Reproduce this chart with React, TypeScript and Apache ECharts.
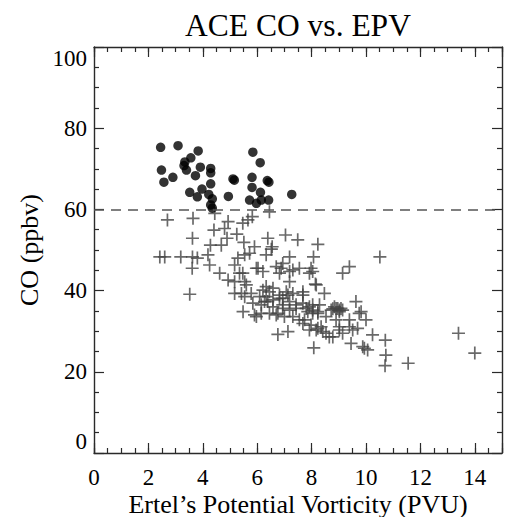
import React, { useEffect, useRef } from "react";
import * as echarts from "echarts";

// ---- DATA ----
const chartTitle = "ACE CO vs. EPV";
const xName = "Ertel\u2019s Potential Vorticity (PVU)";
const yName = "CO (ppbv)";
const thresholdCO = 60;

// CO above threshold (filled circles): [EPV, CO]
const highCO: number[][] = [
  [2.45, 75.3], [3.09, 75.7], [3.83, 74.4], [3.56, 72.7], [3.34, 71.7], [3.31, 70.8],
  [3.4, 69.7], [3.91, 70.4], [4.29, 70.1], [4.29, 69.0], [2.48, 69.7], [2.9, 67.9],
  [2.57, 66.7], [3.73, 68.3], [4.29, 66.3], [3.97, 65.0], [3.52, 64.2], [3.8, 63.1],
  [4.22, 63.7], [4.35, 62.6], [4.29, 61.1], [4.35, 60.3], [5.11, 67.5], [5.16, 67.2],
  [4.94, 63.2], [5.84, 74.1], [6.11, 71.5], [5.81, 67.9], [6.37, 67.1], [6.43, 66.7],
  [5.81, 65.4], [6.12, 64.2], [5.72, 62.3], [5.97, 61.5], [6.15, 62.3], [6.42, 62.3],
  [7.27, 63.7],
];

// CO below threshold (plus markers): [EPV, CO]
const lowCO: number[][] = [
  [2.7, 57.4], [3.64, 57.8], [4.44, 59.0], [4.93, 57.0], [5.47, 56.6], [5.66, 57.4],
  [4.41, 54.9], [4.8, 55.3], [3.62, 52.9], [4.89, 52.9], [5.25, 53.9], [4.28, 51.2],
  [4.68, 51.2], [5.51, 51.9], [2.42, 48.3], [2.6, 48.3], [3.19, 48.3], [3.62, 48.3],
  [3.8, 48.0], [4.19, 48.8], [3.61, 45.5], [4.25, 46.3], [4.62, 44.3], [5.17, 46.3],
  [5.29, 48.0], [5.54, 48.8], [5.35, 44.3], [4.93, 42.6], [5.17, 42.2], [5.54, 42.2],
  [3.52, 39.1], [5.17, 39.3], [5.42, 39.3], [5.54, 38.5], [5.48, 34.8], [5.72, 49.2],
  [5.97, 45.5], [5.9, 34.0],
  [6.45, 59.4], [5.82, 58.2], [6.39, 52.9], [7.04, 53.7], [7.49, 52.5], [8.23, 51.4],
  [5.9, 50.8], [6.55, 50.8], [6.33, 48.8], [7.19, 48.3], [8.07, 48.3], [6.94, 46.7],
  [6.03, 45.5], [6.21, 44.7], [6.7, 45.9], [7.55, 45.5], [7.98, 45.5], [6.82, 44.3],
  [7.19, 44.7], [7.92, 44.3], [9.39, 45.9], [9.14, 44.3], [5.47, 44.3], [7.19, 42.2],
  [8.17, 41.4], [8.47, 39.3], [5.6, 41.4], [5.78, 39.3], [6.33, 41.0], [6.58, 40.6],
  [7.07, 39.7], [6.82, 38.9], [7.31, 39.3], [7.68, 38.9], [9.63, 37.3], [6.09, 38.5],
  [6.39, 37.3], [6.94, 36.5], [7.92, 36.0], [8.29, 36.5], [8.9, 35.6], [9.08, 35.6],
  [6.52, 50.2], [10.51, 48.3], [6.88, 45.5], [7.31, 45.1], [9.82, 34.8], [9.02, 35.2],
  [8.72, 35.2], [8.04, 35.2], [8.23, 34.4], [7.8, 35.6], [10.0, 32.8], [10.24, 29.1],
  [10.71, 27.8], [10.73, 24.1], [10.7, 21.5], [11.55, 22.1], [13.4, 29.5], [14.0, 24.6],
  [8.08, 25.9], [6.76, 29.2], [7.13, 29.9], [8.65, 28.6], [9.02, 31.1], [9.14, 29.5],
  [9.45, 27.0], [9.88, 26.2], [10.06, 25.4], [7.68, 31.9], [7.92, 30.3], [8.35, 31.1],
  [8.53, 33.6], [8.9, 32.8], [9.39, 32.8], [9.69, 30.7], [6.15, 34.4], [6.45, 34.4],
  [6.7, 34.0], [7.0, 33.6], [7.31, 33.6], [7.55, 32.8], [6.21, 40.1], [6.45, 39.7],
  [6.82, 38.1], [7.13, 38.9], [7.19, 37.3], [7.43, 36.5], [7.68, 36.9], [8.04, 36.5],
  [6.27, 37.3], [6.58, 36.0], [6.94, 35.6], [8.84, 36.0], [8.96, 35.6],
  [5.97, 33.6], [5.84, 36.9], [6.15, 36.5], [6.76, 34.4], [7.19, 35.2], [7.43, 35.6],
  [7.74, 32.8], [7.98, 31.5], [8.23, 30.7], [8.41, 29.9], [6.33, 38.5], [6.58, 37.7],
  [6.94, 38.1], [8.04, 44.7], [8.14, 41.6], [7.68, 39.7], [9.75, 34.4], [9.94, 25.8],
  [8.78, 35.5], [9.14, 35.2], [9.02, 34.8], [7.86, 34.8], [8.04, 34.4], [8.23, 34.8],
  [9.39, 31.1], [9.51, 30.3], [9.02, 30.3], [8.53, 29.5], [8.78, 28.6], [8.17, 30.3],
];

const xRange = [0, 15];
const yRange = [0, 100];

const FONT = '"Liberation Serif", "DejaVu Serif", serif';
const AXIS_COLOR = "#2a2a2a";
const PLUS =
  "path://M11.3,0 H14.7 V11.3 H26 V14.7 H14.7 V26 H11.3 V14.7 H0 V11.3 H11.3 Z";

function xAxisDef(position: "bottom" | "top", interval: number, len: number, main: boolean) {
  return {
    type: "value",
    position,
    min: xRange[0],
    max: xRange[1],
    interval,
    axisLine: { show: main, onZero: false, lineStyle: { color: AXIS_COLOR, width: 1.4 } },
    axisTick: { show: true, inside: true, length: len, lineStyle: { color: AXIS_COLOR, width: 1.2 } },
    axisLabel:
      main && position === "bottom"
        ? {
            show: true,
            margin: 15,
            lineHeight: 18,
            fontFamily: FONT,
            fontSize: 23,
            color: "#000",
            formatter: (v: number) => (v % 2 === 0 && v <= 14 ? String(v) : ""),
          }
        : { show: false },
    splitLine: { show: false },
    ...(main && position === "bottom"
      ? {
          name: xName,
          nameLocation: "middle",
          nameGap: 40,
          nameMoveOverlap: false,
          nameTextStyle: { fontFamily: FONT, fontSize: 26, lineHeight: 22, color: "#000" },
        }
      : {}),
  };
}

function yAxisDef(position: "left" | "right") {
  const main = position === "left";
  return {
    type: "value",
    position,
    min: yRange[0],
    max: yRange[1],
    interval: 20,
    axisLine: { show: true, onZero: false, lineStyle: { color: AXIS_COLOR, width: 1.4 } },
    axisTick: { show: true, inside: true, length: 10, lineStyle: { color: AXIS_COLOR, width: 1.2 } },
    minorTick: { show: true, splitNumber: 4, length: 5, lineStyle: { color: AXIS_COLOR, width: 1.2 } },
    axisLabel: main
      ? {
          show: true,
          margin: 7,
          fontFamily: FONT,
          fontSize: 23,
          color: "#000",
          verticalAlignMinLabel: "bottom",
          verticalAlignMaxLabel: "top",
        }
      : { show: false },
    splitLine: { show: false },
    minorSplitLine: { show: false },
    ...(main
      ? {
          name: yName,
          nameLocation: "middle",
          nameGap: 52,
          nameMoveOverlap: false,
          nameTextStyle: { fontFamily: FONT, fontSize: 26, color: "#000" },
        }
      : {}),
  };
}

export default function App() {
  const ref = useRef<HTMLDivElement>(null);
  useEffect(() => {
    if (!ref.current) return;
    const chart = echarts.init(ref.current, null, { renderer: "svg" });
    chart.setOption({
      animation: false,
      backgroundColor: "#fff",
      grid: {
        left: 94,
        right: 3,
        top: 47,
        bottom: 64,
        containLabel: false,
        outerBoundsMode: "none",
      },
      graphic: [
        {
          type: "text",
          x: 298,
          y: 25,
          style: {
            text: chartTitle,
            font: `31.5px ${FONT}`,
            fill: "#000",
            textAlign: "center",
            textVerticalAlign: "middle",
          },
        },
      ],
      xAxis: [
        xAxisDef("bottom", 0.5, 5, true),
        xAxisDef("bottom", 2, 10, false),
        xAxisDef("top", 0.5, 5, true),
        xAxisDef("top", 2, 10, false),
      ],
      yAxis: [yAxisDef("left"), yAxisDef("right")],
      series: [
        {
          type: "scatter",
          name: "low",
          xAxisIndex: 0,
          yAxisIndex: 0,
          data: lowCO,
          symbol: PLUS,
          symbolSize: 13,
          itemStyle: { color: "#444" },
          silent: true,
        },
        {
          type: "scatter",
          name: "high",
          xAxisIndex: 0,
          yAxisIndex: 0,
          data: highCO,
          symbol: "circle",
          symbolSize: 9.5,
          itemStyle: { color: "#000" },
          silent: true,
          markLine: {
            silent: true,
            symbol: ["none", "none"],
            label: { show: false },
            lineStyle: { type: [10, 7], color: "#555", width: 1.5 },
            data: [{ yAxis: thresholdCO }],
          },
        },
      ],
    });
    return () => chart.dispose();
  }, []);
  return (
    <div
      ref={ref}
      style={{ position: "absolute", left: 0, top: 0, width: 505, height: 517 }}
    />
  );
}
